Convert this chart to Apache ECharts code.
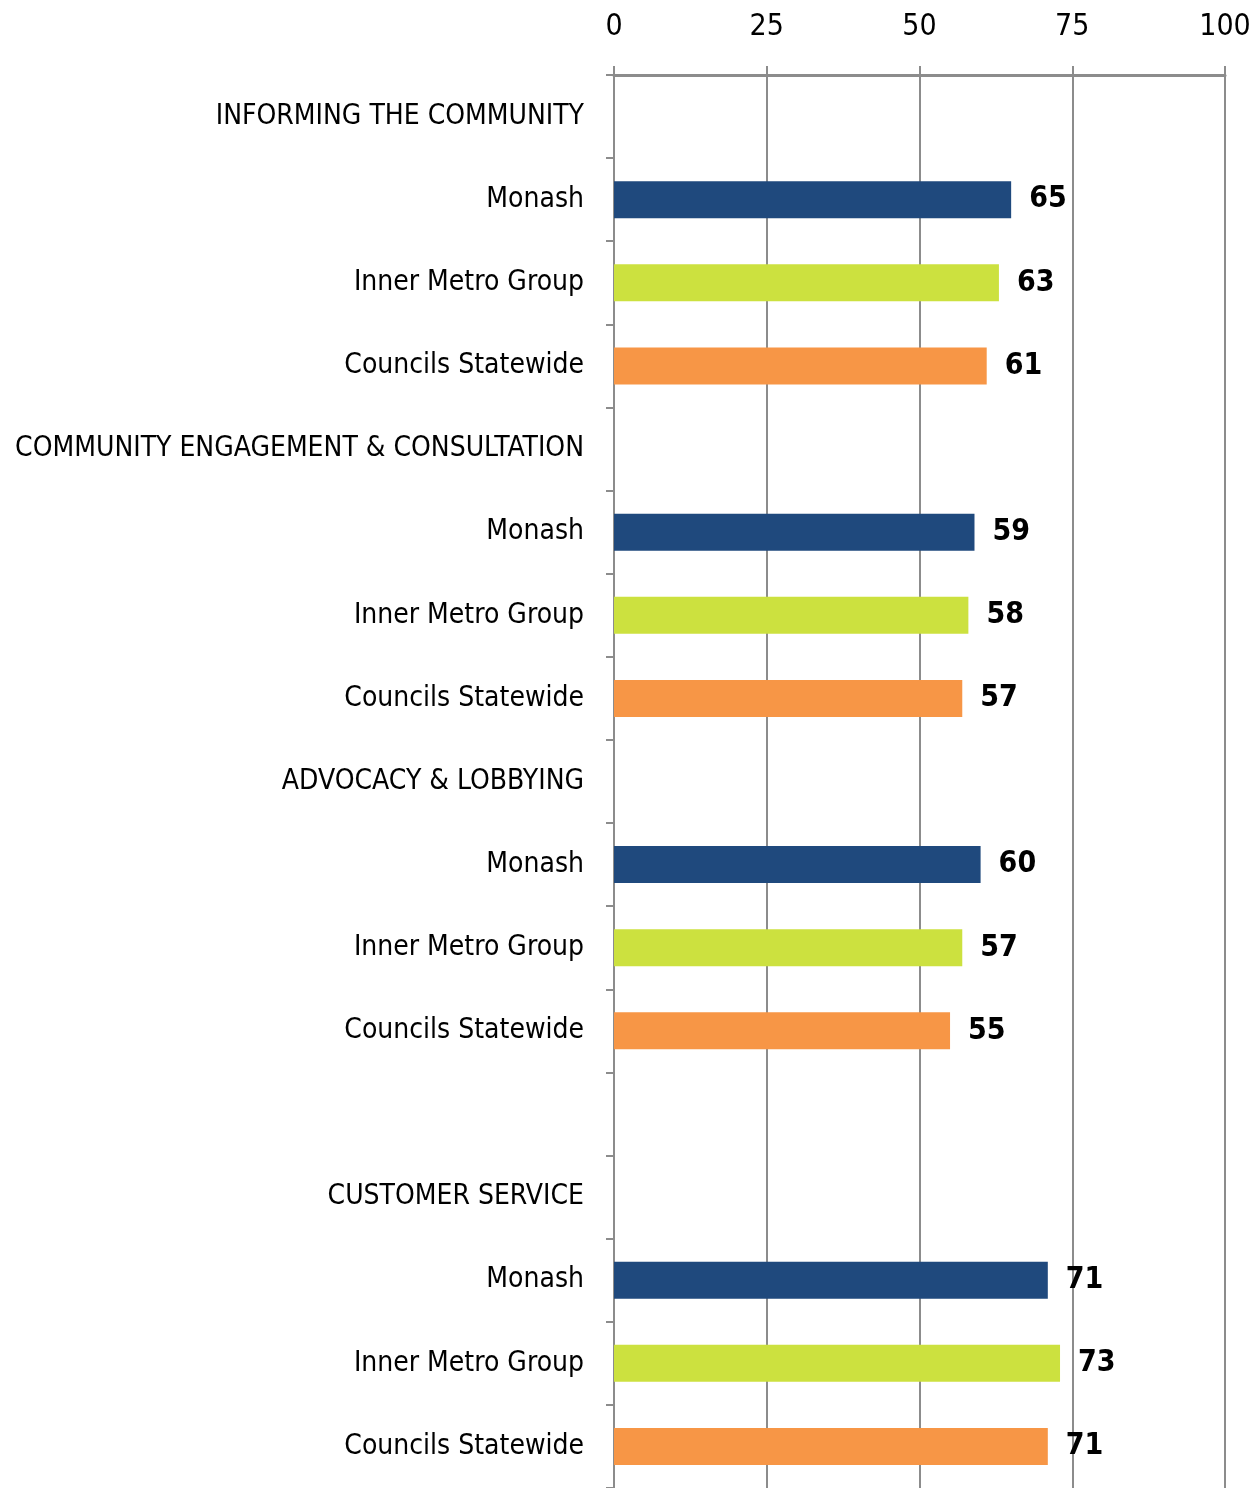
<!DOCTYPE html>
<html>
<head>
<meta charset="utf-8">
<script src="https://cdn.jsdelivr.net/npm/echarts@6/dist/echarts.min.js"></script>
<style>
  html, body { margin: 0; padding: 0; background: #fff; }
  #chart { width: 1260px; height: 1488px; }
</style>
</head>
<body>
<div id="chart"></div>
<script>
// categories top to bottom, header rows have no value
const categories = [
  'INFORMING THE COMMUNITY',
  'Monash', 'Inner Metro Group', 'Councils Statewide',
  'COMMUNITY ENGAGEMENT & CONSULTATION',
  'Monash', 'Inner Metro Group', 'Councils Statewide',
  'ADVOCACY & LOBBYING',
  'Monash', 'Inner Metro Group', 'Councils Statewide',
  '',
  'CUSTOMER SERVICE',
  'Monash', 'Inner Metro Group', 'Councils Statewide'
];
const values = [
  null, 65, 63, 61,
  null, 59, 58, 57,
  null, 60, 57, 55,
  null,
  null, 71, 73, 71
];
const xTicks = [0, 25, 50, 75, 100];
const groupColors = {
  'Monash': '#1F497D',
  'Inner Metro Group': '#CCE13F',
  'Councils Statewide': '#F79646'
};

const FONT = '"Liberation Sans Narrow", "DejaVu Sans Condensed", "Arial Narrow", sans-serif';

var myChart = echarts.init(document.getElementById('chart'));
var option = {
  animation: false,
  grid: {
    left: 614,
    right: 35,
    top: 75,
    bottom: 0,
    containLabel: false,
    outerBoundsMode: 'none'
  },
  xAxis: {
    type: 'value',
    position: 'top',
    min: xTicks[0],
    max: xTicks[xTicks.length - 1],
    interval: 25,
    axisLine: { show: true, lineStyle: { color: '#8c8c8c', width: 3 } },
    axisTick: { show: true, length: 9, lineStyle: { color: '#8c8c8c', width: 2 } },
    splitLine: { show: true, lineStyle: { color: '#8c8c8c', width: 2 } },
    axisLabel: {
      color: '#000',
      fontFamily: FONT,
      fontSize: 30,
      margin: 33
    }
  },
  yAxis: {
    type: 'category',
    inverse: true,
    data: categories,
    axisLine: { show: true, lineStyle: { color: '#8c8c8c', width: 2 } },
    axisTick: { show: true, length: 8, lineStyle: { color: '#8c8c8c', width: 2 } },
    axisLabel: {
      color: '#000',
      fontFamily: FONT,
      fontSize: 28,
      margin: 30
    }
  },
  series: [
    {
      type: 'bar',
      barWidth: 37,
      data: values.map(function (v, i) {
        return {
          value: v,
          itemStyle: { color: groupColors[categories[i]] || '#999' }
        };
      }),
      label: {
        show: true,
        position: 'right',
        distance: 18,
        color: '#000',
        fontFamily: FONT,
        fontWeight: 'bold',
        fontSize: 30,
        formatter: function (p) { return p.value == null ? '' : p.value; }
      }
    }
  ]
};
myChart.setOption(option);
</script>
</body>
</html>
